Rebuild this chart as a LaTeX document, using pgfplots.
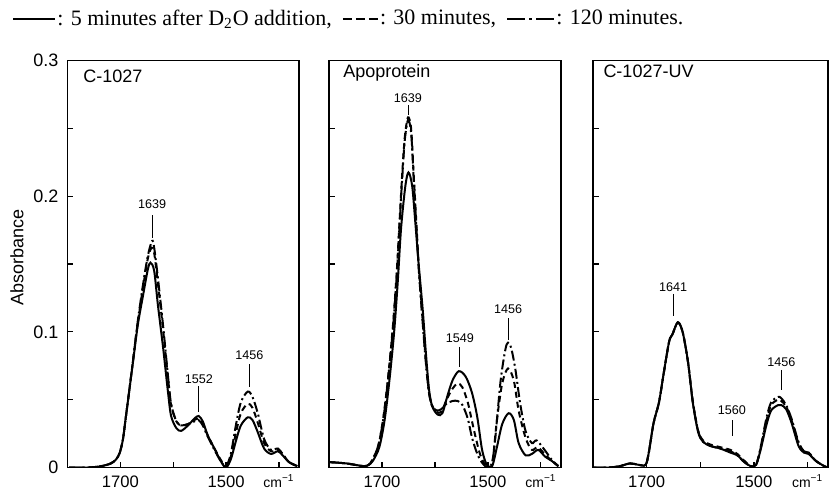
\documentclass[border=0pt]{standalone}
\usepackage{fontspec}
\setmainfont{Liberation Sans}
\newfontfamily\serif{Liberation Serif}
\usepackage{pgfplots}
\pgfplotsset{compat=1.18}

\def\leglen{21pt}
\pgfplotsset{
  spec/.style={
    scale only axis,
    height=203.5pt,
    xmin=1362, xmax=1800, x dir=reverse,
    ymin=0, ymax=0.3,
    xtick={1700,1600,1500,1400},
    xticklabels={1700,,1500,{\fontsize{7}{8}\selectfont cm\textsuperscript{−1}}},
    ytick={0,0.1,0.2,0.3},
    minor ytick={0.05,0.15,0.25},
    xtick pos=left, ytick pos=left,
    tick align=inside,
    major tick length=3pt, minor tick length=3pt,
    tick style={black, line width=0.6pt},
    axis line style={line width=0.9pt},
    yticklabel style={font=\fontsize{9}{10}\selectfont},
    xticklabel style={font=\fontsize{8.3}{10}\selectfont, anchor=base, yshift=-9.9pt},
    /pgf/number format/assume math mode=true,
    every axis plot/.append style={black, line width=1pt, smooth, tension=0.5},
  },
}
\tikzset{
  s5/.style={solid},
  s30/.style={dash pattern=on 3pt off 2pt},
  s120/.style={dash pattern=on 5pt off 1.6pt on 1pt off 1.6pt},
  pk/.style={font=\fontsize{6.3}{7}\selectfont, inner sep=0.5pt},
  ttl/.style={font=\fontsize{9}{10}\selectfont, anchor=west, inner sep=0pt},
}

\begin{document}
\begin{tikzpicture}
\path[use as bounding box] (-33.75pt,-10.75pt) rectangle (381.75pt,233.75pt);

% --- C-1027 ---
\begin{axis}[spec, name=p1, at={(0pt,0pt)}, width=115.75pt,
    ylabel={Absorbance},
    ylabel style={font=\fontsize{9}{10}\selectfont, at={(axis description cs:-0.218,0.515)}, rotate=0, anchor=center},
    yticklabel style={xshift=-1pt},
    legend columns=3,
    legend cell align=left,
    legend image code/.code={\draw[#1, line width=0.9pt] (0pt,0pt) -- (\leglen,0pt);},
    legend style={at={(axis description cs:-0.24,1.102)}, anchor=west, draw=none, fill=none,
        inner sep=0pt, font=\serif\fontsize{11}{12}\selectfont,
        nodes={inner sep=0.6pt},
        /tikz/every even column/.append style={column sep=4.5pt}},
]
\addplot[s5, legend image post style={/utils/exec={\def\leglen{21pt}}}] coordinates {
 (1797,0) (1760,0) (1736,0.001) (1718,0.003) (1708,0.006) (1701,0.011) (1695,0.021) (1690,0.036)
 (1685,0.051) (1676,0.078) (1667,0.105) (1657,0.127) (1648,0.146) (1643,0.151) (1636,0.145)
 (1629,0.120) (1619,0.088) (1610,0.056) (1604,0.038) (1594,0.029) (1585,0.027) (1572,0.031)
 (1560,0.036) (1552,0.038) (1544,0.034) (1535,0.024) (1522,0.014) (1509,0.004) (1500,0.000)
 (1491,0.006) (1481,0.020) (1472,0.031) (1459,0.037) (1450,0.035) (1440,0.026) (1428,0.014)
 (1415,0.010) (1402,0.012) (1393,0.009) (1381,0.004) (1365,0.001)};
\addlegendentry{: 5 minutes after D\textsubscript{2}O addition,}
\addplot[s30, legend image post style={/utils/exec={\def\leglen{17.5pt}}, dash pattern=on 4.5pt off 2pt}] coordinates {
 (1797,0) (1760,0) (1736,0.001) (1718,0.003) (1708,0.006) (1701,0.011) (1695,0.021) (1690,0.036)
 (1685,0.051) (1676,0.079) (1667,0.107) (1657,0.133) (1648,0.154) (1641,0.162) (1636,0.158)
 (1629,0.136) (1619,0.101) (1610,0.067) (1604,0.046) (1594,0.034) (1585,0.031) (1572,0.032)
 (1560,0.035) (1552,0.036) (1544,0.032) (1535,0.024) (1522,0.014) (1509,0.005) (1500,0.001)
 (1491,0.008) (1481,0.026) (1472,0.040) (1459,0.047) (1450,0.044) (1440,0.033) (1428,0.018)
 (1415,0.012) (1402,0.013) (1393,0.010) (1381,0.004) (1365,0.001)};
\addlegendentry{: 30 minutes,}
\addplot[s120, legend image post style={/utils/exec={\def\leglen{23.5pt}}, dash pattern=on 9pt off 2pt on 1.5pt off 2pt}] coordinates {
 (1797,0) (1760,0) (1736,0.001) (1718,0.003) (1708,0.006) (1701,0.011) (1695,0.021) (1690,0.036)
 (1685,0.051) (1676,0.079) (1667,0.108) (1657,0.135) (1648,0.156) (1640,0.167) (1636,0.162)
 (1629,0.140) (1619,0.104) (1610,0.068) (1604,0.047) (1594,0.034) (1585,0.031) (1572,0.032)
 (1560,0.034) (1552,0.035) (1544,0.031) (1535,0.023) (1522,0.013) (1509,0.004) (1500,0.001)
 (1491,0.010) (1481,0.032) (1472,0.048) (1459,0.056) (1450,0.052) (1440,0.040) (1428,0.021)
 (1415,0.013) (1402,0.014) (1393,0.010) (1381,0.004) (1365,0.001)};
\addlegendentry{: 120 minutes.}
\node[ttl] at (axis description cs:0.067,0.96) {C-1027};
\node[pk] at (axis cs:1640,0.194) {1639};
\draw[line width=0.4pt] (axis cs:1640,0.186) -- (axis cs:1640,0.169);
\node[pk] at (axis cs:1551.5,0.065) {1552};
\draw[line width=0.4pt] (axis cs:1551.5,0.060) -- (axis cs:1551.5,0.041);
\node[pk] at (axis cs:1456,0.083) {1456};
\draw[line width=0.4pt] (axis cs:1456,0.076) -- (axis cs:1456,0.059);
\end{axis}

% --- Apoprotein ---
\begin{axis}[spec, name=p2, at={(130.75pt,0pt)}, width=116pt, yticklabels={}]
\addplot[s5] coordinates {
 (1800,0.004) (1767,0.003) (1735,0.001) (1725,0.002) (1717,0.005) (1705,0.015) (1695,0.035)
 (1686,0.064) (1677,0.100) (1670,0.138) (1664,0.176) (1656,0.207) (1650,0.2175) (1643,0.2076)
 (1637,0.1805) (1631,0.151) (1623,0.116) (1617,0.084) (1611,0.057) (1605,0.045) (1595,0.039)
 (1586,0.040) (1577,0.052) (1567,0.064) (1555,0.071) (1542,0.067) (1530,0.055) (1520,0.037)
 (1511,0.013) (1502,0.002) (1492,0.001) (1483,0.015) (1473,0.032) (1461,0.040) (1451,0.035)
 (1442,0.018) (1429,0.009) (1417,0.010) (1405,0.013) (1392,0.008) (1380,0.005) (1367,0.001)};
\addplot[s30] coordinates {
 (1800,0.004) (1767,0.003) (1735,0.001) (1725,0.002) (1719,0.005) (1707,0.016) (1697,0.038)
 (1688,0.068) (1679,0.106) (1672,0.145) (1667,0.180) (1662,0.215) (1657,0.243) (1651,0.258)
 (1645,0.250) (1640,0.215) (1635,0.180) (1630,0.145) (1624,0.113) (1618,0.083) (1612,0.058)
 (1606,0.046) (1597,0.041) (1588,0.041) (1578,0.050) (1567,0.058) (1557,0.062) (1548,0.059)
 (1538,0.048) (1530,0.034) (1523,0.022) (1515,0.010) (1507,0.003) (1500,0.000) (1492,0.002)
 (1483,0.035) (1473,0.062) (1462,0.073) (1451,0.064) (1442,0.042) (1429,0.022) (1417,0.013)
 (1406,0.015) (1393,0.010) (1380,0.005) (1367,0.001)};
\addplot[s120] coordinates {
 (1800,0.004) (1767,0.003) (1735,0.001) (1725,0.002) (1719,0.005) (1707,0.016) (1697,0.037)
 (1688,0.067) (1679,0.104) (1672,0.142) (1667,0.177) (1662,0.212) (1657,0.241) (1651,0.256)
 (1645,0.247) (1640,0.212) (1635,0.177) (1630,0.143) (1624,0.111) (1618,0.081) (1612,0.057)
 (1606,0.046) (1597,0.042) (1588,0.043) (1578,0.047) (1567,0.049) (1557,0.049) (1548,0.046)
 (1538,0.036) (1530,0.022) (1520,0.010) (1510,0.003) (1500,0.000) (1492,0.004) (1486,0.022)
 (1476,0.064) (1467,0.087) (1462,0.092) (1456,0.088) (1448,0.072) (1439,0.047) (1429,0.027)
 (1417,0.018) (1408,0.020) (1393,0.013) (1380,0.006) (1367,0.001)};
\node[ttl] at (axis description cs:0.06,0.969) {Apoprotein};
\node[pk] at (axis cs:1651,0.272) {1639};
\draw[line width=0.4pt] (axis cs:1651,0.267) -- (axis cs:1651,0.260);
\node[pk] at (axis cs:1553,0.095) {1549};
\draw[line width=0.4pt] (axis cs:1553,0.089) -- (axis cs:1553,0.074);
\node[pk] at (axis cs:1462,0.117) {1456};
\draw[line width=0.4pt] (axis cs:1462,0.110) -- (axis cs:1462,0.094);
\end{axis}

% --- C-1027-UV ---
\begin{axis}[spec, name=p3, at={(262.75pt,0pt)}, width=117.5pt, yticklabels={}]
\addplot[s5] coordinates {
 (1805,0) (1770,0) (1750,0.001) (1731,0.003) (1715,0.002) (1702,0.002) (1696,0.011) (1687,0.033)
 (1677,0.048) (1668,0.070) (1658,0.093) (1652,0.098) (1642,0.107) (1633,0.100) (1623,0.078)
 (1614,0.048) (1604,0.026) (1595,0.019) (1582,0.016) (1563,0.014) (1544,0.011) (1531,0.009)
 (1518,0.004) (1506,0.001) (1496,0.002) (1487,0.014) (1477,0.031) (1468,0.042) (1455,0.046)
 (1449,0.046) (1440,0.043) (1430,0.033) (1417,0.016) (1407,0.011) (1398,0.010) (1385,0.005)
 (1369,0.001) (1362,0)};
\addplot[s30] coordinates {
 (1805,0) (1770,0) (1750,0.001) (1731,0.003) (1715,0.002) (1702,0.002) (1696,0.011) (1687,0.033)
 (1677,0.048) (1668,0.070) (1658,0.093) (1652,0.098) (1642,0.107) (1633,0.100) (1623,0.078)
 (1614,0.049) (1604,0.027) (1595,0.020) (1582,0.017) (1563,0.015) (1544,0.013) (1531,0.010)
 (1518,0.005) (1506,0.001) (1496,0.002) (1487,0.015) (1477,0.034) (1468,0.046) (1455,0.050)
 (1449,0.049) (1440,0.045) (1430,0.035) (1417,0.018) (1407,0.012) (1398,0.011) (1385,0.005)
 (1369,0.001) (1362,0)};
\addplot[s120] coordinates {
 (1805,0) (1770,0) (1750,0.001) (1731,0.003) (1715,0.002) (1702,0.002) (1696,0.011) (1687,0.033)
 (1677,0.048) (1668,0.070) (1658,0.093) (1652,0.098) (1642,0.107) (1633,0.100) (1623,0.078)
 (1614,0.048) (1604,0.027) (1595,0.019) (1582,0.016) (1563,0.014) (1544,0.012) (1531,0.009)
 (1518,0.004) (1506,0.001) (1496,0.002) (1487,0.016) (1477,0.036) (1468,0.048) (1455,0.052)
 (1449,0.051) (1440,0.046) (1430,0.036) (1417,0.019) (1407,0.012) (1398,0.011) (1385,0.005)
 (1369,0.001) (1362,0)};
\node[ttl] at (axis description cs:0.043,0.973) {C-1027-UV};
\node[pk] at (axis cs:1650.5,0.133) {1641};
\draw[line width=0.4pt] (axis cs:1650.5,0.128) -- (axis cs:1650.5,0.112);
\node[pk] at (axis cs:1541,0.042) {1560};
\draw[line width=0.4pt] (axis cs:1541,0.035) -- (axis cs:1541,0.023);
\node[pk] at (axis cs:1449,0.078) {1456};
\draw[line width=0.4pt] (axis cs:1449,0.072) -- (axis cs:1449,0.057);
\end{axis}
\end{tikzpicture}
\end{document}
